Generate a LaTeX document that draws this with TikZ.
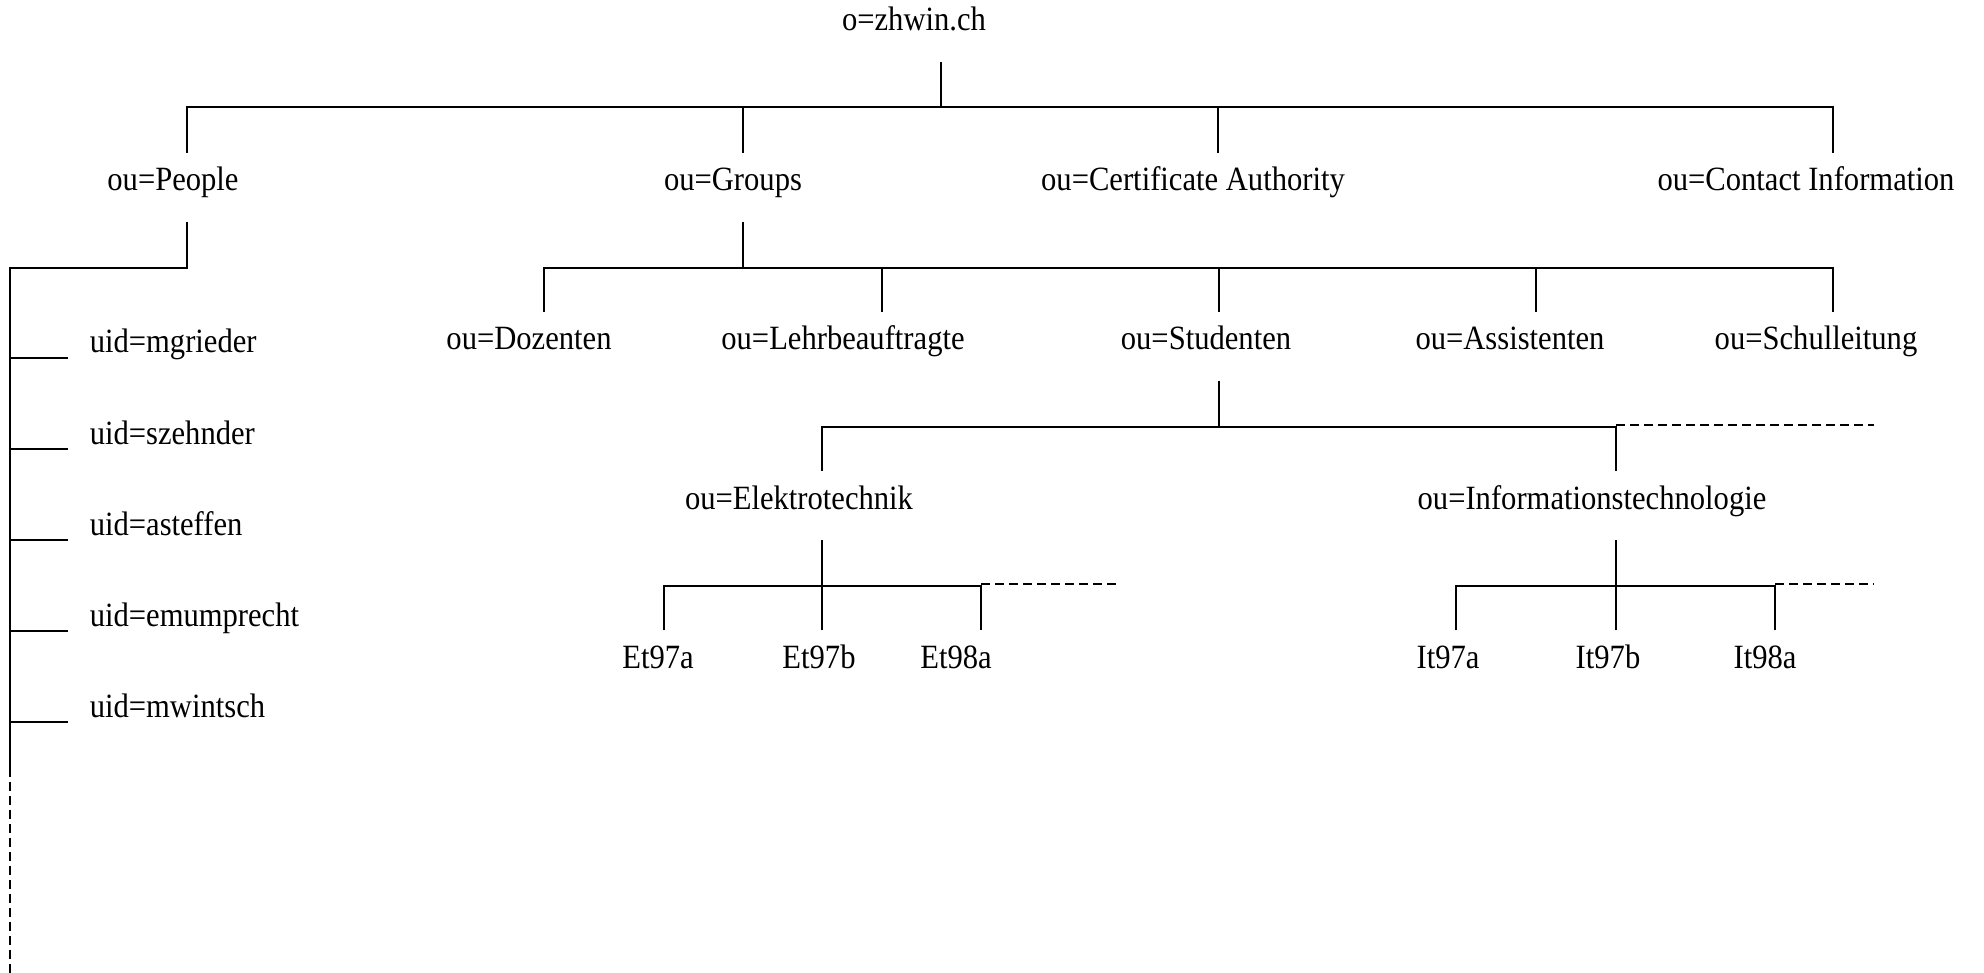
\documentclass[tikz,border=0pt]{standalone}
\usepackage{fontspec}
\setmainfont[FakeStretch=0.9]{Liberation Serif}

\tikzset{
    entry/.style={anchor=base, inner sep=0pt, text height=37pt, text depth=30pt,
        font=\fontsize{34}{40}\selectfont},
    user/.style={anchor=base west, inner sep=0pt, font=\fontsize{34}{40}\selectfont},
    more/.style={dash pattern=on 9pt off 5pt}
}

\begin{document}
\begin{tikzpicture}[x=1pt, y=-1pt, line width=1.6pt]
            \useasboundingbox (0,0) rectangle (1984,973);
            \node[entry] (root) at (914,31) {o=zhwin.ch};
            \node[entry] (people) at (173,191) {ou=People};
            \node[entry] (groups) at (733,191) {ou=Groups};
            \node[entry] (ca) at (1193,191) {ou=Certificate Authority};
            \node[entry] (contact) at (1806,191) {ou=Contact Information};
            \node[entry] (dozenten) at (529,350) {ou=Dozenten};
            \node[entry] (lehr) at (843,350) {ou=Lehrbeauftragte};
            \node[entry] (studenten) at (1206,350) {ou=Studenten};
            \node[entry] (assist) at (1510,350) {ou=Assistenten};
            \node[entry] (schul) at (1816,350) {ou=Schulleitung};
            \node[entry] (et) at (799,509) {ou=Elektrotechnik};
            \node[entry] (it) at (1592,509) {ou=Informationstechnologie};
            \node[entry] (et97a) at (658,668) {Et97a};
            \node[entry] (et97b) at (819,668) {Et97b};
            \node[entry] (et98a) at (956,668) {Et98a};
            \node[entry] (it97a) at (1448,668) {It97a};
            \node[entry] (it97b) at (1608,668) {It97b};
            \node[entry] (it98a) at (1765,668) {It98a};
            \node[user] (u1) at (89,353) {uid=mgrieder};
            \node[user] (u2) at (89,444) {uid=szehnder};
            \node[user] (u3) at (89,535) {uid=asteffen};
            \node[user] (u4) at (89,626) {uid=emumprecht};
            \node[user] (u5) at (89,717) {uid=mwintsch};
            \coordinate (spine) at (10,768);

            \draw ([xshift=27]root.south) -- ++(0,45) coordinate (top);
            \draw ([xshift=14]people.north) |- (top) -| ([xshift=27]contact.north);
            \draw ([xshift=10]groups.north) |- (top);
            \draw ([xshift=25]ca.north) |- (top);

            \draw ([xshift=14]people.south) -- ++(0,46) -| (spine);
            \draw[more] (spine) -- ++(0,205);
            \foreach \u in {u1,u2,u3,u4,u5}
                \draw ([xshift=-21,yshift=-5]\u.base west) -- ++(-58,0);

            \draw ([xshift=10]groups.south) -- ++(0,46) coordinate (mid);
            \draw ([xshift=15]dozenten.north) |- (mid) -| ([xshift=17]schul.north);
            \draw ([xshift=39]lehr.north) |- (mid);
            \draw ([xshift=13]studenten.north) |- (mid);
            \draw ([xshift=26]assist.north) |- (mid);

            \draw ([xshift=13]studenten.south) -- ++(0,46) coordinate (sbar);
            \draw ([xshift=23]et.north) |- (sbar) -| ([xshift=24]it.north);
            \draw[more] ([xshift=24]it.north) ++(0,-46) -- ++(258,0);

            \draw ([xshift=23]et.south) -- ++(0,46) coordinate (ebar);
            \draw ([xshift=6]et97a.north) |- (ebar) -| ([xshift=25]et98a.north);
            \draw ([xshift=3]et97b.north) |- (ebar);
            \draw[more] ([xshift=25]et98a.north) ++(0,-46) -- ++(139,0);

            \draw ([xshift=24]it.south) -- ++(0,46) coordinate (ibar);
            \draw ([xshift=8]it97a.north) |- (ibar) -| ([xshift=10]it98a.north);
            \draw ([xshift=8]it97b.north) |- (ibar);
            \draw[more] ([xshift=10]it98a.north) ++(0,-46) -- ++(99,0);
        \end{tikzpicture}
\end{document}
